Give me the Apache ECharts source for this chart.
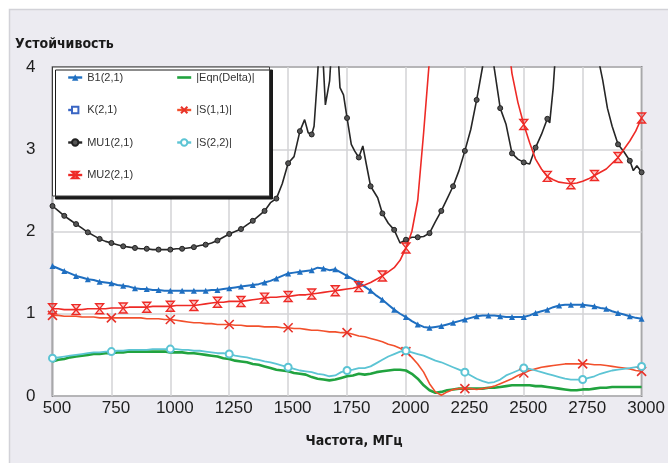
<!DOCTYPE html>
<html>
<head>
<meta charset="utf-8">
<script src="https://cdn.jsdelivr.net/npm/echarts@6/dist/echarts.min.js"></script>
<style>
  html, body { margin: 0; padding: 0; background: #fff; }
  #chart { width: 668px; height: 463px; }
</style>
</head>
<body>
<div id="chart"></div>
<script>
// Sweep grid (MHz), 25 MHz step
const freq = [];
for (let f = 500; f <= 3000; f += 25) freq.push(f);

const xTicks = [500, 750, 1000, 1250, 1500, 1750, 2000, 2250, 2500, 2750, 3000];
const yTicks = [0, 1, 2, 3, 4];

// B1(2,1)
const b1 = [
  1.58,1.55,1.52,1.49,1.46,1.44,1.42,1.41,1.39,1.38,
  1.37,1.35,1.34,1.33,1.31,1.30,1.30,1.29,1.29,1.28,
  1.28,1.28,1.28,1.28,1.28,1.28,1.28,1.29,1.29,1.30,
  1.31,1.32,1.33,1.34,1.35,1.36,1.38,1.40,1.43,1.46,
  1.49,1.50,1.51,1.52,1.53,1.56,1.55,1.53,1.54,1.50,
  1.46,1.42,1.38,1.33,1.28,1.22,1.17,1.11,1.05,1.00,
  0.96,0.91,0.87,0.84,0.83,0.84,0.85,0.87,0.89,0.91,
  0.93,0.95,0.97,0.98,0.98,0.98,0.97,0.96,0.96,0.96,
  0.96,0.98,1.01,1.03,1.05,1.08,1.10,1.11,1.11,1.11,
  1.11,1.10,1.09,1.07,1.06,1.03,1.01,0.99,0.97,0.95,
  0.94
];

// K(2,1) — no trace in this sweep
const k = [];

// MU1(2,1), sampled more densely around the resonances
const mu1Freq = [
  500,525,550,575,600,625,650,675,700,725,
  750,775,800,825,850,875,900,925,950,975,
  1000,1025,1050,1075,1100,1125,1150,1175,1200,1225,
  1250,1275,1300,1325,1350,1375,1400,1425,1450,1475,
  1500,1525,1550,1570,1585,1600,1610,1625,1635,1648,
  1658,1676,1690,1705,1720,1735,1750,1768,1782,1800,
  1817,1831,1850,1880,1900,1925,1950,1975,2000,2025,
  2050,2075,2100,2125,2150,2175,2200,2225,2250,2275,
  2300,2325,2350,2375,2400,2425,2450,2475,2500,2525,
  2550,2575,2600,2610,2625,2640,2700,2760,2800,2820,
  2835,2855,2875,2900,2925,2950,2965,2980,3000
];
const mu1 = [
  2.31,2.25,2.19,2.14,2.09,2.04,1.99,1.95,1.91,1.88,
  1.86,1.84,1.82,1.81,1.80,1.79,1.79,1.78,1.78,1.78,
  1.78,1.79,1.79,1.80,1.81,1.83,1.84,1.86,1.89,1.93,
  1.97,2.00,2.03,2.08,2.13,2.19,2.25,2.35,2.40,2.58,
  2.83,2.91,3.22,3.36,3.20,3.18,3.28,3.90,4.40,4.10,
  3.54,3.83,4.50,4.50,3.75,3.66,3.38,3.06,2.98,2.90,
  3.04,2.83,2.55,2.41,2.22,2.10,2.02,1.86,1.90,1.93,
  1.93,1.94,1.98,2.12,2.25,2.40,2.55,2.74,2.98,3.24,
  3.60,4.00,4.50,3.98,3.50,3.30,2.95,2.88,2.84,2.82,
  3.02,3.18,3.37,3.32,3.75,4.40,5.50,5.50,4.60,4.05,
  3.84,3.50,3.28,3.06,2.97,2.86,2.74,2.80,2.72
];

// MU2(2,1)
const mu2 = [
  1.06,1.06,1.05,1.05,1.05,1.05,1.06,1.06,1.06,1.06,
  1.07,1.07,1.07,1.08,1.08,1.08,1.08,1.09,1.09,1.09,
  1.09,1.10,1.10,1.10,1.10,1.11,1.12,1.13,1.14,1.14,
  1.15,1.15,1.15,1.16,1.17,1.18,1.19,1.20,1.20,1.21,
  1.21,1.22,1.23,1.23,1.24,1.25,1.26,1.27,1.28,1.29,
  1.30,1.31,1.33,1.35,1.38,1.42,1.46,1.51,1.56,1.65,
  1.80,2.00,2.38,3.20,4.10,5.00,5.60,5.80,5.90,5.95,
  5.95,5.90,5.85,5.80,5.70,5.60,5.30,4.50,3.92,3.57,
  3.30,3.08,2.88,2.76,2.67,2.63,2.60,2.59,2.58,2.59,
  2.61,2.64,2.68,2.72,2.76,2.83,2.90,3.00,3.10,3.22,
  3.38
];

// |S(1,1)|
const s11 = [
  0.98,0.98,0.97,0.97,0.97,0.96,0.96,0.96,0.95,0.95,
  0.95,0.95,0.95,0.95,0.95,0.95,0.94,0.94,0.94,0.93,
  0.93,0.92,0.91,0.90,0.89,0.89,0.88,0.88,0.87,0.87,
  0.87,0.86,0.86,0.85,0.85,0.85,0.84,0.84,0.84,0.83,
  0.83,0.82,0.82,0.81,0.80,0.80,0.79,0.78,0.78,0.77,
  0.77,0.75,0.73,0.72,0.70,0.68,0.66,0.63,0.61,0.58,
  0.54,0.47,0.39,0.29,0.15,0.05,0.01,0.05,0.08,0.09,
  0.09,0.09,0.08,0.09,0.10,0.12,0.15,0.18,0.21,0.25,
  0.28,0.31,0.33,0.35,0.36,0.37,0.38,0.39,0.39,0.39,
  0.39,0.39,0.38,0.38,0.37,0.36,0.35,0.34,0.33,0.31,
  0.30
];

// |S(2,2)|
const s22 = [
  0.46,0.47,0.48,0.49,0.50,0.51,0.52,0.53,0.53,0.54,
  0.54,0.55,0.55,0.56,0.56,0.56,0.56,0.57,0.57,0.57,
  0.57,0.57,0.56,0.56,0.55,0.55,0.54,0.53,0.52,0.52,
  0.51,0.49,0.48,0.47,0.45,0.44,0.42,0.41,0.39,0.37,
  0.35,0.33,0.31,0.30,0.29,0.27,0.26,0.24,0.25,0.29,
  0.31,0.32,0.34,0.34,0.36,0.40,0.44,0.48,0.51,0.54,
  0.55,0.53,0.51,0.49,0.46,0.43,0.41,0.38,0.35,0.32,
  0.29,0.25,0.21,0.18,0.16,0.17,0.20,0.25,0.28,0.31,
  0.34,0.33,0.31,0.29,0.27,0.25,0.23,0.21,0.20,0.20,
  0.20,0.22,0.24,0.27,0.29,0.31,0.32,0.33,0.34,0.35,
  0.36
];

// |Eqn(Delta)|
const eqn = [
  0.42,0.44,0.45,0.47,0.48,0.49,0.50,0.51,0.51,0.52,
  0.52,0.53,0.53,0.54,0.54,0.54,0.54,0.54,0.54,0.54,
  0.53,0.53,0.53,0.52,0.52,0.51,0.50,0.49,0.48,0.46,
  0.45,0.43,0.42,0.41,0.39,0.38,0.36,0.34,0.32,0.31,
  0.30,0.28,0.27,0.26,0.23,0.21,0.20,0.19,0.20,0.22,
  0.24,0.25,0.27,0.26,0.27,0.29,0.30,0.31,0.32,0.32,
  0.31,0.27,0.21,0.13,0.07,0.04,0.05,0.07,0.08,0.09,
  0.09,0.09,0.09,0.09,0.10,0.10,0.11,0.12,0.13,0.13,
  0.13,0.13,0.12,0.12,0.11,0.10,0.09,0.08,0.07,0.07,
  0.08,0.08,0.09,0.10,0.10,0.11,0.11,0.11,0.11,0.11,
  0.11
];

const NARROW = "'Liberation Sans Narrow', 'DejaVu Sans Condensed', 'Liberation Sans', sans-serif";
const REGULAR = "'Liberation Sans', Arial, sans-serif";

const pairs = (xs, ys) => ys.map((y, i) => [xs[i], y]);
// marker every `step` MHz, counted from the start of the sweep
const markEvery = (step, size) => (v) => ((v[0] - 500) % step === 0 ? size : 0);

const HOURGLASS = 'path://M0,0L10,0L0,12L10,12Z';
const CROSS = 'path://M0,0L10,10M10,0L0,10';
// plain line swatch for the legend (outer moves keep the box at full icon size)
const LINE_ICON = 'path://M0,0M0,2.7L14,2.7L14,5.3L0,5.3ZM14,8';

function line(name, data, color, opts) {
  return Object.assign({
    name, type: 'line', data,
    showSymbol: true, showAllSymbol: true,
    lineStyle: { color, width: 1.6 },
    itemStyle: { color },
    emphasis: { disabled: true },
    animation: false,
    z: 2
  }, opts);
}

const series = [
  line('B1(2,1)', pairs(freq, b1), '#1f6fc1', {
    symbol: 'triangle', symbolSize: markEvery(50, 6),
    lineStyle: { color: '#1f6fc1', width: 2 }
  }),
  line('K(2,1)', k, '#3a66c4', {
    symbol: 'rect', symbolSize: 6,
    lineStyle: { color: '#3a66c4', width: 1.6, type: 'dashed' },
    itemStyle: { color: '#fff', borderColor: '#3a66c4', borderWidth: 1.2 }
  }),
  line('MU1(2,1)', pairs(mu1Freq, mu1), '#262626', {
    symbol: 'circle', symbolSize: markEvery(50, 5),
    lineStyle: { color: '#262626', width: 1.6 },
    itemStyle: { color: '#555', borderColor: '#222', borderWidth: 1 }
  }),
  line('MU2(2,1)', pairs(freq, mu2), '#ee2a26', {
    symbol: HOURGLASS, symbolSize: markEvery(100, [8, 10]),
    lineStyle: { color: '#ee2a26', width: 1.6 },
    itemStyle: { color: 'rgba(238,42,38,0.25)', borderColor: '#ee2a26', borderWidth: 1.3 }
  }),
  line('|Eqn(Delta)|', pairs(freq, eqn), '#21a33f', {
    symbol: 'none',
    lineStyle: { color: '#21a33f', width: 2.6 }
  }),
  line('|S(1,1)|', pairs(freq, s11), '#f2502c', {
    symbol: CROSS, symbolSize: markEvery(250, 9),
    lineStyle: { color: '#f2502c', width: 1.6 },
    itemStyle: { color: 'rgba(0,0,0,0)', borderColor: '#e8322a', borderWidth: 1.6 }
  }),
  line('|S(2,2)|', pairs(freq, s22), '#5cc4d4', {
    symbol: 'emptyCircle', symbolSize: markEvery(250, 7),
    lineStyle: { color: '#5cc4d4', width: 1.8 },
    itemStyle: { color: '#5cc4d4', borderColor: '#5cc4d4', borderWidth: 1.3 }
  })
];

const legendCommon = {
  orient: 'vertical',
  top: 71.5,
  padding: 0,
  itemWidth: 14,
  itemHeight: 8,
  itemGap: 20.5,
  selectedMode: false,
  z: 10,
  lineStyle: { width: 2.4 },
  textStyle: { fontFamily: REGULAR, fontSize: 11, lineHeight: 12, color: '#333' }
};

const chart = echarts.init(document.getElementById('chart'), null, { renderer: 'canvas' });
chart.setOption({
  backgroundColor: '#ecebf1',
  animation: false,
  grid: {
    left: 52.5, right: 26, top: 67, bottom: 67,
    show: true, backgroundColor: '#fff', borderColor: '#2b2b2b', borderWidth: 1.5
  },
  xAxis: {
    type: 'value', min: xTicks[0], max: xTicks[xTicks.length - 1], interval: 250,
    axisLine: { show: false }, axisTick: { show: false },
    splitLine: { show: true, lineStyle: { color: '#d3d3d6', width: 1.5 } },
    axisLabel: {
      fontFamily: REGULAR, fontSize: 17, color: '#1e1e1e', margin: 4,
      padding: [0, 0, 0, 9],
      formatter: (v) => String(v)
    }
  },
  yAxis: {
    type: 'value', min: yTicks[0], max: yTicks[yTicks.length - 1], interval: 1,
    axisLine: { show: false }, axisTick: { show: false },
    splitLine: { show: true, lineStyle: { color: '#d3d3d6', width: 1.5 } },
    axisLabel: { fontFamily: REGULAR, fontSize: 17, color: '#1e1e1e', margin: 17 }
  },
  legend: [
    Object.assign({}, legendCommon, { left: 67, data: ['B1(2,1)', 'K(2,1)', 'MU1(2,1)', 'MU2(2,1)'] }),
    Object.assign({}, legendCommon, { left: 176, data: [
      { name: '|Eqn(Delta)|', icon: LINE_ICON }, '|S(1,1)|', '|S(2,2)|'
    ] })
  ],
  graphic: [
    // white margin and panel edge
    { type: 'rect', shape: { x: 0, y: 0, width: 668, height: 9 }, style: { fill: '#fff' }, silent: true },
    { type: 'rect', shape: { x: 0, y: 0, width: 9, height: 463 }, style: { fill: '#fff' }, silent: true },
    { type: 'polyline', shape: { points: [[9.5, 463], [9.5, 9.5], [668, 9.5]] },
      style: { stroke: '#d2d2d8', lineWidth: 1.5, fill: null }, silent: true },
    // legend frame with hard drop shadow
    { type: 'rect', z: 5,
      shape: { x: 52.5, y: 67, width: 217, height: 129 },
      style: { fill: '#fff', stroke: '#3a3a3a', lineWidth: 1,
               shadowColor: '#1a1a1a', shadowOffsetX: 3, shadowOffsetY: 3, shadowBlur: 0 },
      silent: true },
    { type: 'text', x: 15, y: 44, silent: true,
      style: { text: 'Устойчивость', font: 'bold 14px ' + NARROW, fill: '#1a1a1a',
               align: 'left', verticalAlign: 'middle' } },
    { type: 'text', x: 354, y: 441, silent: true,
      style: { text: 'Частота, МГц', font: 'bold 14px ' + NARROW, fill: '#1a1a1a',
               align: 'center', verticalAlign: 'middle' } }
  ],
  series
});
</script>
</body>
</html>
